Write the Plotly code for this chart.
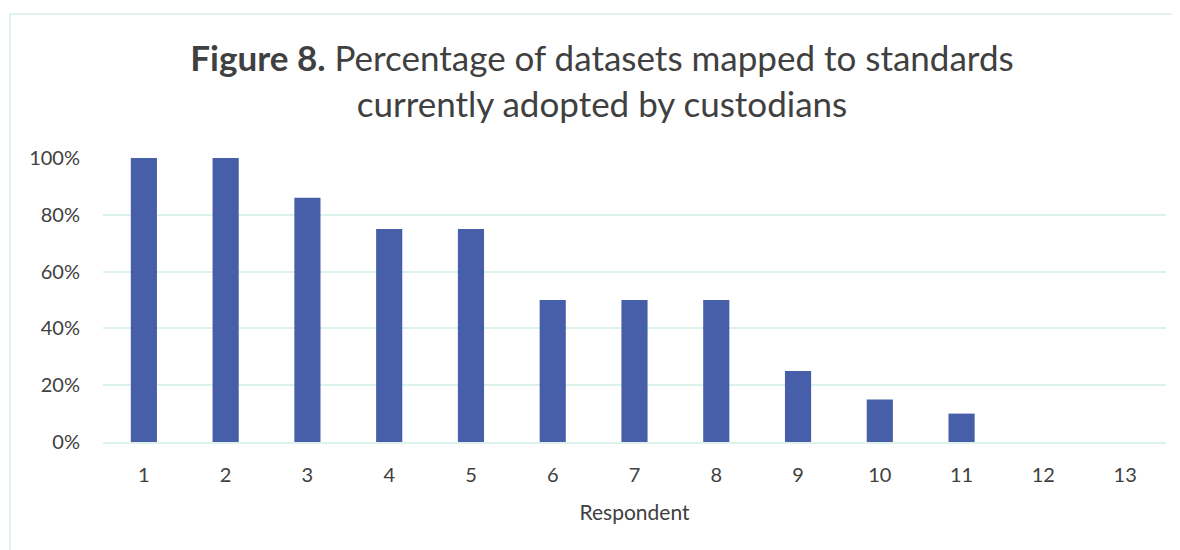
import plotly.graph_objects as go

respondents = [str(i) for i in range(1, 14)]
percent_mapped = [1.00, 1.00, 0.86, 0.75, 0.75, 0.50, 0.50, 0.50, 0.25, 0.15, 0.10, 0.0, 0.0]
y_ticks = [0, 0.2, 0.4, 0.6, 0.8, 1.0]
y_tick_labels = ["0%", "20%", "40%", "60%", "80%", "100%"]

W, H = 1180, 550
OFF = 8  # page body offset
L, R, T, B = 95, 22, 150, 116
pw, ph = W - L - R, H - T - B

fig = go.Figure(go.Bar(
    x=respondents, y=percent_mapped,
    marker=dict(color="#475FA9", line=dict(width=0)),
    width=0.32,
))

grid = "#DDF2EC"
fig.update_layout(
    width=W, height=H,
    margin=dict(l=L, r=R, t=T, b=B),
    paper_bgcolor="white", plot_bgcolor="white",
    font=dict(family="Lato", color="#404040", size=20),
    showlegend=False,
    title=dict(
        text="<b>Figure 8.</b> Percentage of datasets mapped to standards<br>currently adopted by custodians",
        x=(602 - OFF) / W, xanchor="center", y=1 - 63 / H, yanchor="top",
        font=dict(size=35, color="#404040", family="Lato"),
    ),
    xaxis=dict(
        showgrid=False, showline=True, linecolor=grid, linewidth=2,
        ticks="", tickfont=dict(size=20, color="#404040"), ticklabelstandoff=14,
        title=dict(text="Respondent", font=dict(size=21, color="#404040"), standoff=20),
        range=[-0.5, 12.5],
    ),
    yaxis=dict(
        range=[0, 1], tickvals=y_ticks, ticktext=y_tick_labels,
        showgrid=True, gridcolor=grid, gridwidth=2, zeroline=False,
        ticks="", tickfont=dict(size=20, color="#404040"), ticklabelstandoff=22,
    ),
    shapes=[dict(
        type="rect", xref="paper", yref="paper",
        x0=(10 - OFF - L) / pw, x1=(W + 20 - L) / pw,
        y0=(H - B - (H + 20)) / ph, y1=(H - B - (14 - OFF)) / ph,
        line=dict(color="#E0F3EE", width=2), fillcolor="rgba(0,0,0,0)", layer="below",
    )],
)

fig.write_html("out.html")
